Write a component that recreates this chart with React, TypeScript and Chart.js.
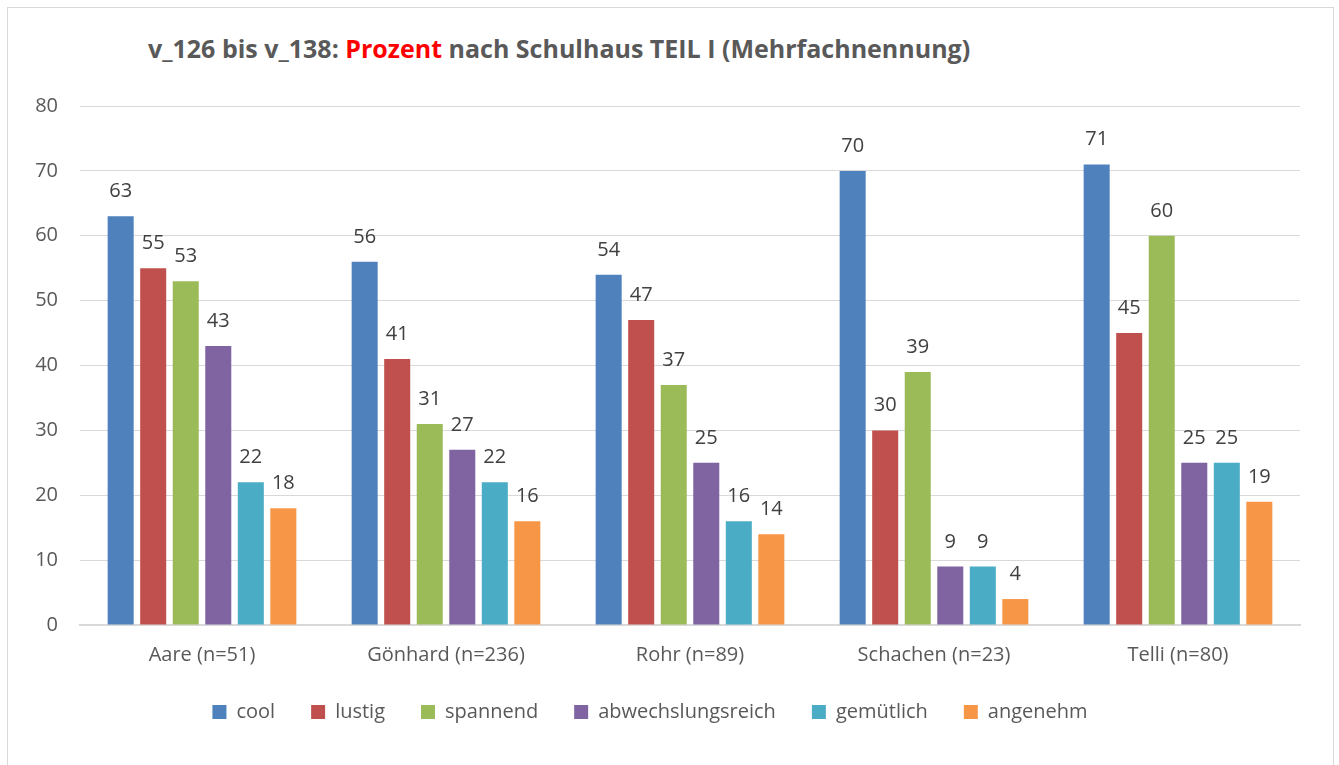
import { useEffect, useRef } from 'react';
import { Chart, registerables } from 'chart.js';

Chart.register(...registerables);

const categories = ['Aare (n=51)', 'Gönhard (n=236)', 'Rohr (n=89)', 'Schachen (n=23)', 'Telli (n=80)'];
const seriesNames = ['cool', 'lustig', 'spannend', 'abwechslungsreich', 'gemütlich', 'angenehm'];
const cool = [63, 56, 54, 70, 71];
const lustig = [55, 41, 47, 30, 45];
const spannend = [53, 31, 37, 39, 60];
const abwechslungsreich = [43, 27, 25, 9, 25];
const gemuetlich = [22, 22, 16, 9, 25];
const angenehm = [18, 16, 14, 4, 19];
const seriesValues = [cool, lustig, spannend, abwechslungsreich, gemuetlich, angenehm];
const seriesColors = ['#4F81BD', '#C0504D', '#9BBB59', '#8064A2', '#4BACC6', '#F79646'];
const yMin = 0;
const yMax = 80;
const yStep = 10;

const FONT = "'Open Sans', sans-serif";

const dataLabelPlugin = {
  id: 'dataLabels',
  afterDatasetsDraw(chart: any) {
    const ctx = chart.ctx;
    ctx.save();
    ctx.font = `20px ${FONT}`;
    ctx.fillStyle = '#404040';
    ctx.textAlign = 'center';
    ctx.textBaseline = 'alphabetic';
    chart.data.datasets.forEach((ds: any, di: number) => {
      const meta = chart.getDatasetMeta(di);
      meta.data.forEach((el: any, i: number) => {
        ctx.fillText(String(ds.data[i]), el.x, el.y - 19);
      });
    });
    ctx.restore();
  },
};

export default function App() {
  const ref = useRef<HTMLCanvasElement | null>(null);

  useEffect(() => {
    if (!ref.current) return;
    const chart = new Chart(ref.current, {
      type: 'bar',
      data: {
        labels: categories,
        datasets: seriesNames.map((name, i) => ({
          label: name,
          data: seriesValues[i],
          backgroundColor: seriesColors[i],
          borderWidth: 0,
          categoryPercentage: 0.8,
          barPercentage: 0.8,
        })),
      },
      options: {
        responsive: false,
        animation: false,
        layout: { padding: { top: 106, left: 0, right: 39, bottom: 33 } },
        plugins: {
          title: { display: false },
          tooltip: { enabled: false },
          legend: {
            position: 'bottom',
            labels: {
              boxWidth: 14,
              boxHeight: 14,
              padding: 36,
              color: '#595959',
              font: { family: FONT, size: 20 },
            },
          },
        },
        scales: {
          x: {
            grid: { display: false, drawTicks: false },
            border: { display: true, color: '#d9d9d9', width: 2 },
            ticks: { color: '#595959', font: { family: FONT, size: 20 }, padding: 18 },
            afterFit: (s: any) => { s.height = 41; },
          },
          y: {
            min: yMin,
            max: yMax,
            grid: { color: '#d9d9d9', lineWidth: 1, drawTicks: false },
            border: { display: false },
            ticks: { stepSize: yStep, color: '#595959', font: { family: FONT, size: 20 }, padding: 22 },
            afterFit: (s: any) => { s.width = 80; },
          },
        },
      },
      plugins: [dataLabelPlugin],
    });
    return () => chart.destroy();
  }, []);

  return (
    <div style={{ position: 'absolute', left: 0, top: 0, width: 1339, height: 765, overflow: 'hidden', background: '#fff' }}>
      <div style={{ position: 'absolute', left: 7, top: 7, width: 1325, height: 800, border: '1px solid #d9d9d9' }} />
      <div
        style={{
          position: 'absolute',
          left: 148,
          top: 33,
          fontFamily: FONT,
          fontWeight: 700,
          fontSize: 25,
          lineHeight: '30px',
          color: '#595959',
          whiteSpace: 'nowrap',
        }}
      >
        v_126 bis v_138: <span style={{ color: '#FF0000' }}>Prozent</span> nach Schulhaus TEIL I (Mehrfachnennung)
      </div>
      <canvas ref={ref} width={1339} height={765} style={{ position: 'absolute', left: 0, top: 0 }} />
    </div>
  );
}
